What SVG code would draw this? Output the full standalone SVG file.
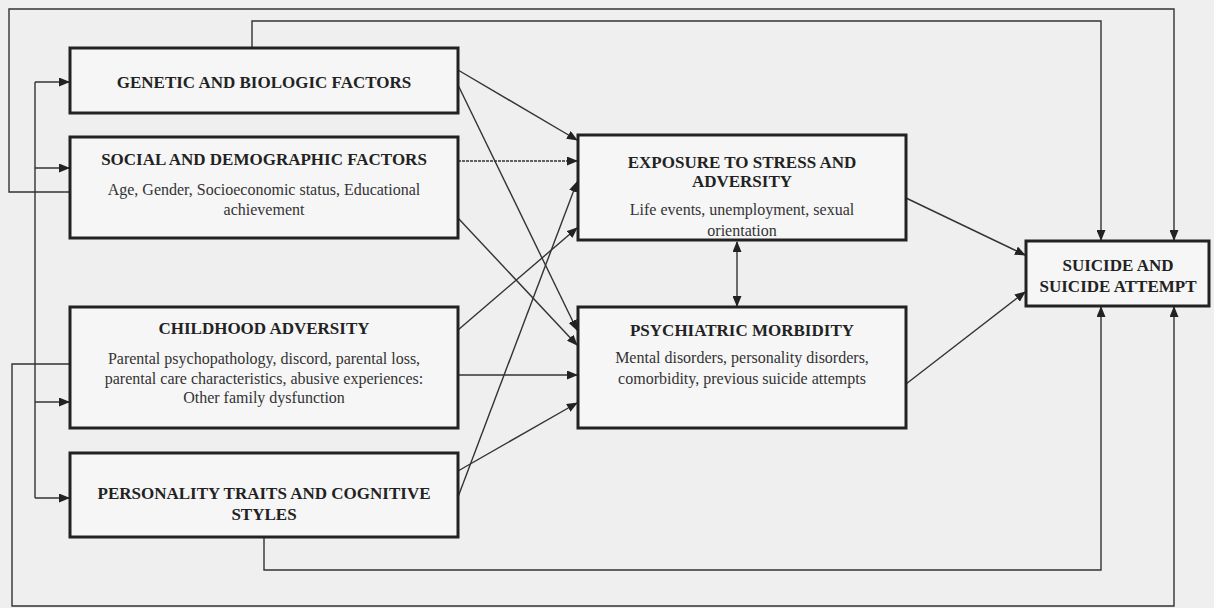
<svg xmlns="http://www.w3.org/2000/svg" width="1214" height="608" viewBox="0 0 1214 608">
<defs>
<marker id="ah" markerUnits="userSpaceOnUse" markerWidth="11" markerHeight="9" refX="10" refY="4.5" orient="auto-start-reverse">
<path d="M0,0 L11,4.5 L0,9 z" fill="#222"/>
</marker>
</defs>
<style>
.box{fill:#f6f6f6;stroke:#222;stroke-width:3}
.t{font-family:"Liberation Serif","Times New Roman",serif;font-size:17px;font-weight:bold;fill:#222;text-anchor:middle}
.b{font-family:"Liberation Serif","Times New Roman",serif;font-size:16px;fill:#333;text-anchor:middle}
.c{fill:none;stroke:#333;stroke-width:1.4}
.a{marker-end:url(#ah)}
.d{stroke-dasharray:3 1}
</style>
<rect width="1214" height="608" fill="#efefef"/>
<g id="connectors">
<!-- feedback loops -->
<polyline class="c a" points="70,192 9,192 9,9 1174,9 1174,240"/>
<polyline class="c a" points="252,48 252,21 1101,21 1101,240"/>
<polyline class="c a" points="70,364 12,364 12,606 1174,606 1174,307"/>
<polyline class="c a" points="264,537 264,570 1101,570 1101,307"/>
<!-- left bracket -->
<line class="c" x1="35" y1="82" x2="35" y2="498"/>
<line class="c a" x1="35" y1="82" x2="69" y2="82"/>
<line class="c a" x1="35" y1="168" x2="69" y2="168"/>
<line class="c a" x1="35" y1="402" x2="69" y2="402"/>
<line class="c a" x1="35" y1="498" x2="69" y2="498"/>
<!-- to exposure / psychiatric -->
<line class="c a" x1="458" y1="70" x2="577" y2="140"/>
<line class="c a" x1="458" y1="85" x2="577" y2="330"/>
<line class="c a d" x1="458" y1="161" x2="577" y2="161"/>
<line class="c a" x1="458" y1="218" x2="577" y2="345"/>
<line class="c a" x1="458" y1="330" x2="577" y2="228"/>
<line class="c a" x1="458" y1="375" x2="577" y2="375"/>
<line class="c a" x1="458" y1="497" x2="577" y2="182"/>
<line class="c a" x1="458" y1="471" x2="577" y2="403"/>
<!-- to suicide -->
<line class="c a" x1="906" y1="198" x2="1025" y2="255"/>
<line class="c a" x1="906" y1="384" x2="1025" y2="292"/>
<!-- exposure <-> psychiatric -->
<line class="c a" x1="737" y1="242" x2="737" y2="306" style="marker-start:url(#ah)"/>
</g>
<g id="genetic">
<rect class="box" x="70" y="48" width="388" height="65"/>
<text class="t" x="264" y="88">GENETIC AND BIOLOGIC FACTORS</text>
</g>
<g id="social">
<rect class="box" x="70" y="137" width="388" height="101"/>
<text class="t" x="264" y="165">SOCIAL AND DEMOGRAPHIC FACTORS</text>
<text class="b" x="264" y="195">Age, Gender, Socioeconomic status, Educational</text>
<text class="b" x="264" y="215">achievement</text>
</g>
<g id="childhood">
<rect class="box" x="70" y="307" width="388" height="121"/>
<text class="t" x="264" y="334">CHILDHOOD ADVERSITY</text>
<text class="b" x="264" y="364">Parental psychopathology, discord, parental loss,</text>
<text class="b" x="264" y="384">parental care characteristics, abusive experiences:</text>
<text class="b" x="264" y="403">Other family dysfunction</text>
</g>
<g id="personality">
<rect class="box" x="70" y="453" width="388" height="84"/>
<text class="t" x="264" y="499">PERSONALITY TRAITS AND COGNITIVE</text>
<text class="t" x="264" y="520">STYLES</text>
</g>
<g id="exposure">
<rect class="box" x="578" y="135" width="328" height="105"/>
<text class="t" x="742" y="168">EXPOSURE TO STRESS AND</text>
<text class="t" x="742" y="187">ADVERSITY</text>
<text class="b" x="742" y="215">Life events, unemployment, sexual</text>
<text class="b" x="742" y="236">orientation</text>
</g>
<g id="psychiatric">
<rect class="box" x="578" y="307" width="328" height="121"/>
<text class="t" x="742" y="336">PSYCHIATRIC MORBIDITY</text>
<text class="b" x="742" y="363">Mental disorders, personality disorders,</text>
<text class="b" x="742" y="384">comorbidity, previous suicide attempts</text>
</g>
<g id="suicide">
<rect class="box" x="1026" y="241" width="183" height="65"/>
<text class="t" x="1118" y="271">SUICIDE AND</text>
<text class="t" x="1118" y="292">SUICIDE ATTEMPT</text>
</g>
</svg>
